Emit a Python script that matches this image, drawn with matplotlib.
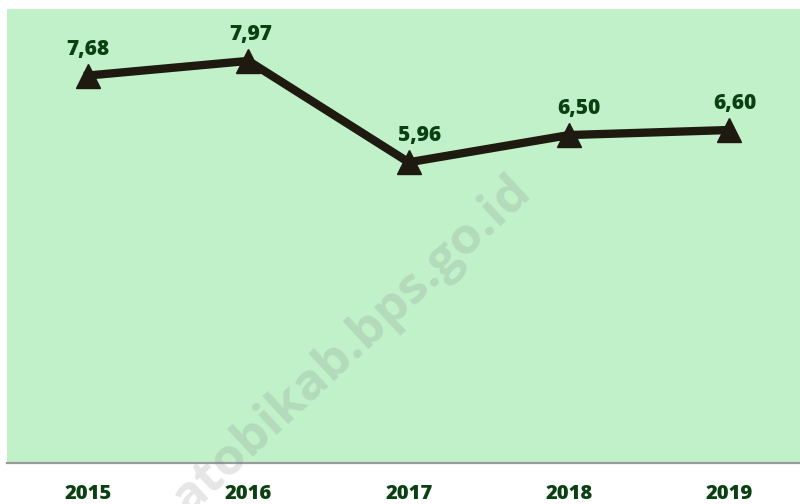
import matplotlib
matplotlib.use("Agg")
import matplotlib.pyplot as plt

# ── data ─────────────────────────────────────────────
years = ["2015", "2016", "2017", "2018", "2019"]
values = [7.68, 7.97, 5.96, 6.50, 6.60]
value_labels = ["7,68", "7,97", "5,96", "6,50", "6,60"]

# small horizontal nudges for the value labels (points)
label_dx = [0, 2, 8, 7, 4]

plt.rcParams["font.family"] = ["Open Sans", "DejaVu Sans"]

bg = "#c0f1c9"
txt = "#0b4112"
line_c = "#1f1a10"

fig = plt.figure(figsize=(8, 5.04), dpi=100)
ax = fig.add_axes([0.00875, 0.0813, 0.99125, 0.901])
ax.set_facecolor(bg)

x = list(range(len(years)))
ax.plot(x, values, color=line_c, linewidth=6, marker="^", markersize=17,
        markerfacecolor=line_c, markeredgecolor=line_c, zorder=3)

for xi, v, lab, dx in zip(x, values, value_labels, label_dx):
    ax.annotate(lab, (xi, v), xytext=(dx, 15), textcoords="offset points",
                ha="center", va="baseline", fontsize=15, fontweight="heavy",
                color=txt, zorder=4)

ax.set_xlim(-0.505, 4.44)
ax.set_ylim(0, 9)
ax.set_yticks([])
ax.set_xticks(x)
ax.set_xticklabels(years, fontsize=14.5, fontweight="heavy", color=txt)
ax.tick_params(axis="x", length=0, pad=15)

for s in ["top", "left", "right"]:
    ax.spines[s].set_visible(False)
ax.spines["bottom"].set_color("#9a9a9a")
ax.spines["bottom"].set_linewidth(1.6)

# watermark
fig.text(0.44, 0.315, "atobikab.bps.go.id", rotation=43, ha="center", va="center",
         fontsize=37, fontweight="bold", color="#808080", alpha=0.2, zorder=0)

fig.savefig("out.png", dpi=100)
